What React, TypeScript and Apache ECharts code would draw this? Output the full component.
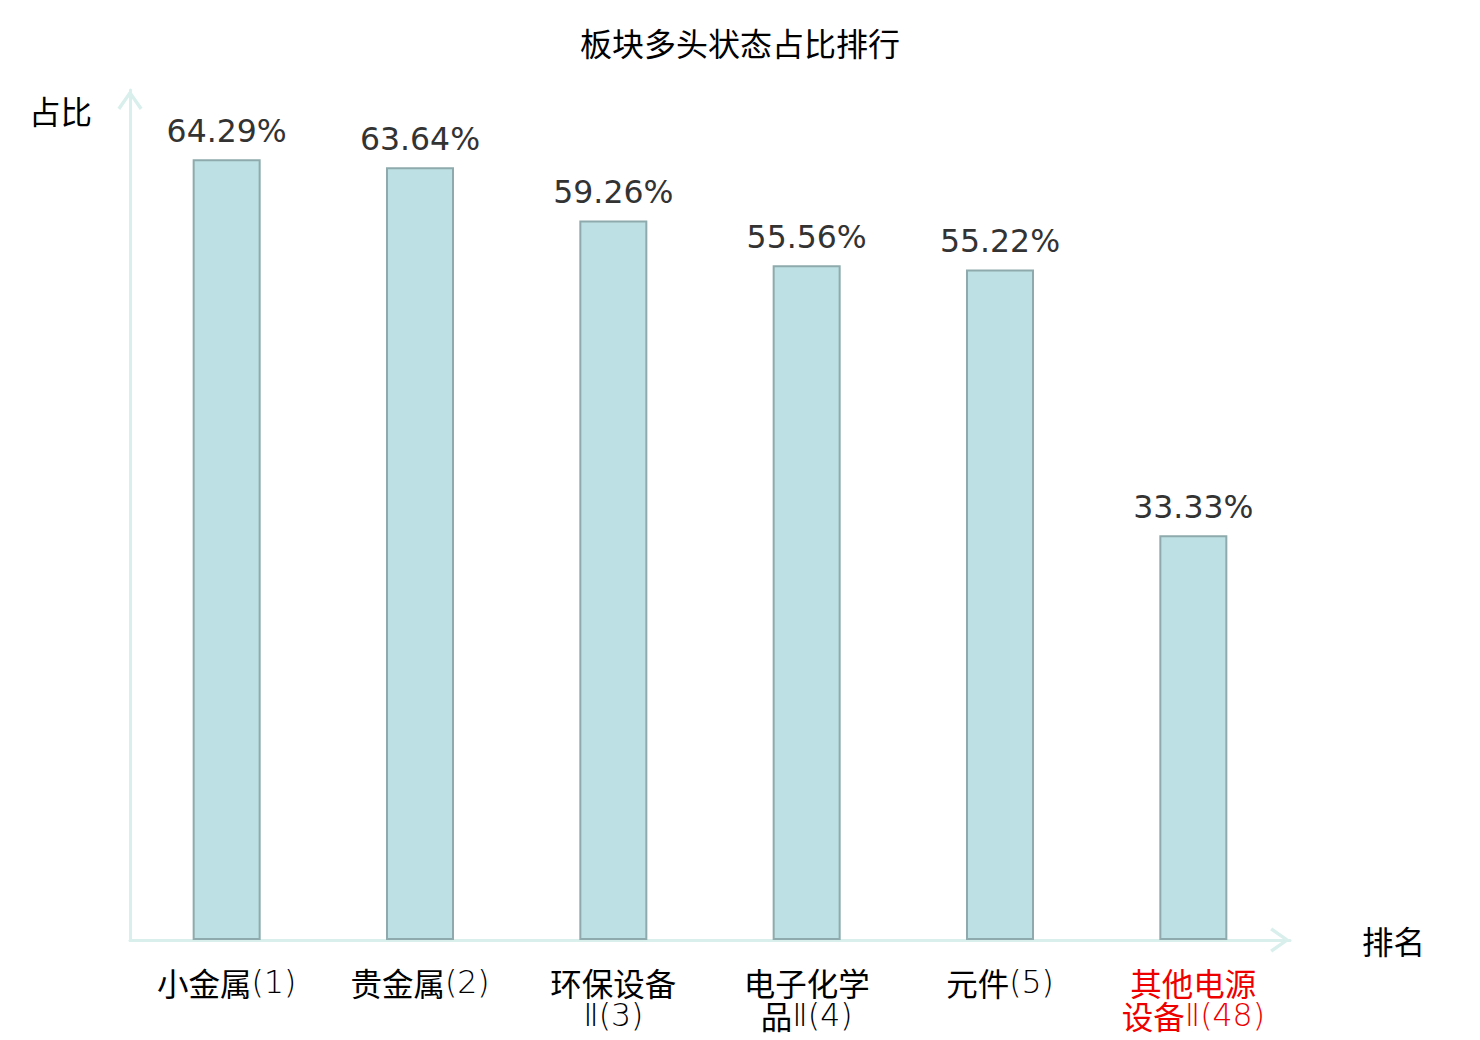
import React, { useEffect, useRef } from "react";
import * as echarts from "echarts";

const titleText = "板块多头状态占比排行";
const categories = ["小金属(1)", "贵金属(2)", "环保设备Ⅱ(3)", "电子化学品Ⅱ(4)", "元件(5)", "其他电源设备Ⅱ(48)"];
const values = [64.29, 63.64, 59.26, 55.56, 55.22, 33.33];
const highlightIndex = 5;
const yAxisName = "占比";
const xAxisName = "排名";

const CJK = "'Noto Sans CJK SC', 'Noto Sans CJK JP', sans-serif";
const LATIN = "'DejaVu Sans', sans-serif";
const ARROW = "path://M0,17 L12,0 L24,17 L21.4,19 L12,5.4 L2.6,19 Z";
const FS = 31.5;
const LH = 33;

function formatLabel(value: string, index: number): string {
  const lines = value.length > 6 ? [value.slice(0, 4), value.slice(4)] : [value];
  const suffix = index === highlightIndex ? "r" : "";
  return lines
    .map((line) =>
      (line.match(/[\u4e00-\u9fff]+|[^\u4e00-\u9fff]+/g) || [])
        .map((run) => (/[\u4e00-\u9fff]/.test(run) ? `{c${suffix}|${run}}` : `{d${suffix}|${run}}`))
        .join("")
    )
    .join("\n");
}

export default function App() {
  const ref = useRef<HTMLDivElement>(null);
  useEffect(() => {
    document.body.style.margin = "0";
    const chart = echarts.init(ref.current!, undefined, { renderer: "svg" });
    const axisLineStyle = { color: "#d8efec", width: 3 };
    const arrowCfg = { symbol: ["none", ARROW], symbolSize: [25, 21], symbolOffset: [0, -10] };
    chart.setOption({
      animation: false,
      backgroundColor: "#ffffff",
      title: {
        text: titleText,
        left: "center",
        top: 21,
        textStyle: { fontFamily: CJK, fontSize: 32, fontWeight: "normal", color: "#000" },
      },
      grid: { left: 130, right: 190, top: 90, bottom: 100 },
      xAxis: {
        type: "category",
        data: categories,
        name: xAxisName,
        nameLocation: "end",
        nameGap: 72,
        nameTextStyle: { fontFamily: CJK, fontSize: FS, color: "#000" },
        axisLine: { show: true, lineStyle: axisLineStyle, ...arrowCfg },
        axisTick: { show: false },
        axisLabel: {
          interval: 0,
          margin: 25,
          formatter: formatLabel,
          rich: {
            c: { fontFamily: CJK, fontSize: FS, color: "#000", lineHeight: LH },
            d: { fontFamily: LATIN, fontWeight: 200, fontSize: FS, color: "#000", lineHeight: LH },
            cr: { fontFamily: CJK, fontSize: FS, color: "#ee0000", lineHeight: LH },
            dr: { fontFamily: LATIN, fontWeight: 200, fontSize: FS, color: "#ee0000", lineHeight: LH },
          },
        },
      },
      yAxis: {
        type: "value",
        min: 0,
        max: 70,
        name: yAxisName,
        nameLocation: "end",
        nameGap: -20,
        nameTextStyle: { fontFamily: CJK, fontSize: FS, color: "#000", align: "right", verticalAlign: "middle", padding: [0, 38, 0, 0] },
        axisLine: { show: true, lineStyle: axisLineStyle, ...arrowCfg },
        axisTick: { show: false },
        axisLabel: { show: false },
        splitLine: { show: false },
      },
      series: [
        {
          type: "bar",
          data: values,
          barWidth: 68,
          itemStyle: { color: "#bce0e3", borderColor: "#8eaaac", borderWidth: 2 },
          label: {
            show: true,
            position: "top",
            distance: 12,
            formatter: (p: any) => `${p.value.toFixed(2)}%`,
            fontFamily: LATIN,
            fontSize: FS,
            color: "#333",
          },
        },
      ],
    });
    return () => chart.dispose();
  }, []);
  return <div ref={ref} style={{ width: 1480, height: 1040 }} />;
}
